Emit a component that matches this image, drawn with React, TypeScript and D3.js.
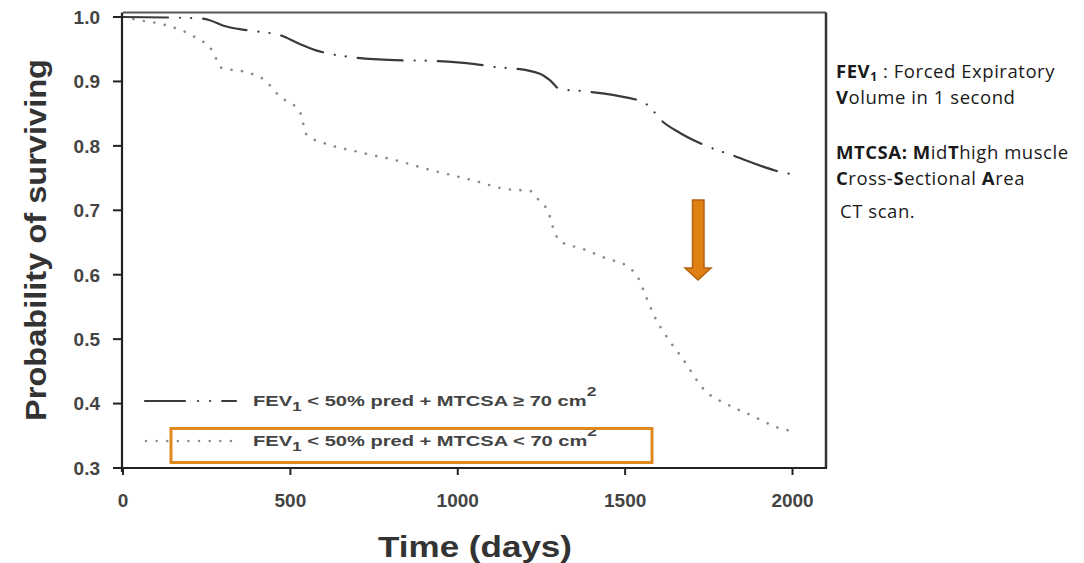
import React from 'react';
import * as d3 from 'd3';

// Kaplan-Meier style survival curves (days, probability)
const highMuscleDays = [0, 229, 259, 303, 363, 408, 468, 528, 572, 617, 677, 812, 916, 1051, 1117, 1147, 1245, 1275, 1305, 1374, 1514, 1544, 1577, 1598, 1664, 1724, 1828, 1969, 2000];
const highMuscleSurv = [1.0, 0.998, 0.995, 0.986, 0.98, 0.977, 0.972, 0.958, 0.949, 0.943, 0.938, 0.933, 0.932, 0.927, 0.922, 0.921, 0.912, 0.902, 0.888, 0.885, 0.874, 0.87, 0.859, 0.845, 0.82, 0.804, 0.784, 0.759, 0.756];

const lowMuscleDays = [0, 49, 124, 214, 265, 295, 363, 423, 468, 528, 549, 603, 708, 812, 916, 1042, 1144, 1216, 1245, 1269, 1290, 1305, 1374, 1440, 1509, 1539, 1560, 1587, 1625, 1670, 1739, 1808, 1880, 1949, 2000];
const lowMuscleSurv = [1.0, 0.995, 0.988, 0.969, 0.949, 0.921, 0.915, 0.902, 0.877, 0.853, 0.817, 0.804, 0.79, 0.778, 0.763, 0.747, 0.733, 0.73, 0.714, 0.699, 0.665, 0.652, 0.64, 0.626, 0.612, 0.595, 0.569, 0.536, 0.503, 0.471, 0.42, 0.398, 0.381, 0.364, 0.357];

const xTicks = [0, 500, 1000, 1500, 2000];
const yTicks = [0.3, 0.4, 0.5, 0.6, 0.7, 0.8, 0.9, 1.0];

const W = 1084;
const H = 563;
const left = 123;
const right = 826;
const top = 12.5;
const bottom = 468;

const axisFont = '"Liberation Sans", Arial, sans-serif';
const noteFont = '"Open Sans", Lato, sans-serif';

export default function App() {
  const x = d3.scaleLinear().domain([0, 2100]).range([left, right]);
  const y = d3.scaleLinear().domain([0.3, 1.007]).range([bottom, top]);

  const line = d3
    .line<[number, number]>()
    .x(d => x(d[0]))
    .y(d => y(d[1]))
    .curve(d3.curveMonotoneX);

  const high = highMuscleDays.map((d, i) => [d, highMuscleSurv[i]] as [number, number]);
  const low = lowMuscleDays.map((d, i) => [d, lowMuscleSurv[i]] as [number, number]);

  const dashDot = '45 12 0.1 11 0.1 12';
  const dotted = '0.1 10.5';

  return (
    <svg width={W} height={H} style={{ position: 'absolute', left: 0, top: 0, background: '#fff' }}>
      {/* curves */}
      <path d={line(low) || ''} fill="none" stroke="#8a8a8a" strokeWidth={2.6} strokeLinecap="round" strokeDasharray={dotted} />
      <path d={line(high) || ''} fill="none" stroke="#3a3a3a" strokeWidth={2.2} strokeLinecap="round" strokeDasharray={dashDot} />

      {/* frame */}
      <line x1={left} x2={right} y1={top} y2={top} stroke="#555" strokeWidth={2} />
      <line x1={right} x2={right} y1={top} y2={bottom} stroke="#333" strokeWidth={2.5} />
      <line x1={left - 1} x2={right + 1} y1={bottom} y2={bottom} stroke="#222" strokeWidth={2.2} />
      <line x1={left - 1} x2={left - 1} y1={top} y2={bottom + 4} stroke="#222" strokeWidth={2.2} />

      {/* y ticks */}
      {yTicks.map(t => (
        <g key={t}>
          <line x1={left - 10} x2={left - 1} y1={y(t)} y2={y(t)} stroke="#222" strokeWidth={2} />
          <text x={100} y={y(t)} dy="0.36em" textAnchor="end" fontFamily={axisFont} fontWeight="bold" fontSize={19} fill="#444">
            {t.toFixed(1)}
          </text>
        </g>
      ))}

      {/* x ticks */}
      {xTicks.map(t => (
        <g key={t}>
          <line x1={x(t)} x2={x(t)} y1={bottom} y2={bottom + 7} stroke="#222" strokeWidth={2} />
          <text x={x(t)} y={bottom + 32} dy="0.36em" textAnchor="middle" fontFamily={axisFont} fontWeight="bold" fontSize={19} fill="#444">
            {t}
          </text>
        </g>
      ))}

      {/* axis titles */}
      <text
        transform={`translate(46,240) rotate(-90)`}
        textAnchor="middle"
        fontFamily={axisFont}
        fontWeight="bold"
        fontSize={29}
        fill="#333"
        textLength={362}
        lengthAdjust="spacingAndGlyphs"
      >
        Probability of surviving
      </text>
      <text x={475} y={557} textAnchor="middle" fontFamily={axisFont} fontWeight="bold" fontSize={30} fill="#333" textLength={194} lengthAdjust="spacingAndGlyphs">
        Time (days)
      </text>

      {/* legend */}
      <line x1={145} x2={236} y1={401} y2={401} stroke="#3a3a3a" strokeWidth={2.2} strokeLinecap="round" strokeDasharray="40 13 0.1 12 0.1 12" />
      <g transform="translate(253,406) scale(1.34,1)">
        <text x={0} y={0} fontFamily={axisFont} fontWeight="bold" fontSize={15} fill="#444">
          FEV<tspan fontSize={13} dy={5}>1</tspan>
          <tspan dy={-5}> {'<'} 50% pred + MTCSA ≥ 70 cm</tspan>
          <tspan fontSize={13} dy={-10}>2</tspan>
        </text>
      </g>
      <line x1={146} x2={236} y1={441} y2={441} stroke="#8a8a8a" strokeWidth={2.4} strokeLinecap="round" strokeDasharray="0.1 10.5" />
      <g transform="translate(253,446) scale(1.34,1)">
        <text x={0} y={0} fontFamily={axisFont} fontWeight="bold" fontSize={15} fill="#444">
          FEV<tspan fontSize={13} dy={5}>1</tspan>
          <tspan dy={-5}> {'<'} 50% pred + MTCSA {'<'} 70 cm</tspan>
          <tspan fontSize={13} dy={-10}>2</tspan>
        </text>
      </g>
      <rect x={171} y={428.5} width={481} height={34} fill="none" stroke="#E08A1E" strokeWidth={3} />

      {/* arrow */}
      <path
        d="M692.5,200 L704,200 L704,268 L711,268 L698,280 L685,268 L692.5,268 Z"
        fill="#E07F12"
        stroke="#B5620E"
        strokeWidth={1.5}
      />

      {/* notes */}
      <g fontFamily={noteFont} fontSize={18.5} letterSpacing={0.55} fill="#1a1a1a">
        <text x={836} y={78}>
          <tspan fontWeight="bold">FEV</tspan>
          <tspan fontWeight="bold" fontSize={12} dy={3}>1</tspan>
          <tspan dy={-3}> : Forced Expiratory</tspan>
        </text>
        <text x={836} y={104}>
          <tspan fontWeight="bold">V</tspan>olume in 1 second
        </text>
        <text x={836} y={159}>
          <tspan fontWeight="bold">MTCSA: M</tspan>id<tspan fontWeight="bold">T</tspan>high muscle
        </text>
        <text x={836} y={185}>
          <tspan fontWeight="bold">C</tspan>ross-<tspan fontWeight="bold">S</tspan>ectional <tspan fontWeight="bold">A</tspan>rea
        </text>
        <text x={840} y={218}>CT scan.</text>
      </g>
    </svg>
  );
}
